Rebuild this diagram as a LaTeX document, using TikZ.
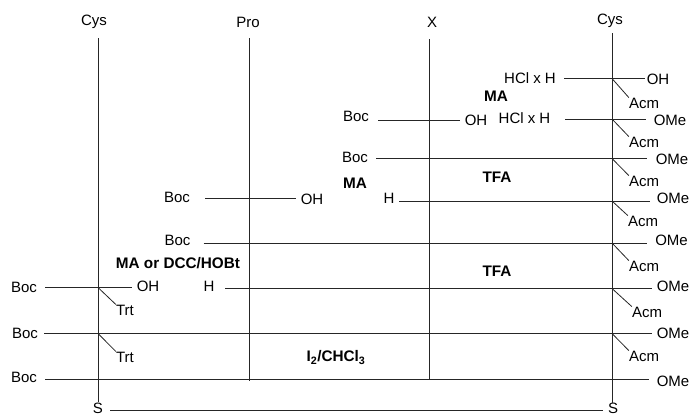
\documentclass[tikz,border=0pt]{standalone}
\usepackage{fontspec}
\setmainfont{Liberation Sans}
\tikzset{
  x=1pt,y=-1pt,
  lab/.style={inner sep=0pt,text height=10.5pt,text depth=0pt,font=\fontsize{15}{18}\selectfont},
  reag/.style={lab,font=\fontsize{15.3}{18}\selectfont\bfseries},
  chain/.style={line width=1pt,black!85},
  side/.style={line width=0.8pt,black!85},
}
\begin{document}
\begin{tikzpicture}
\useasboundingbox (0,0) rectangle (690,416);
% residue headers
\node[lab] (cysL) at (94,20) {Cys};
\node[lab] (pro) at (248,22) {Pro};
\node[lab] (xres) at (432,22) {X};
\node[lab] (cysR) at (610,19) {Cys};
\node[lab] (sL) at (98,408.5) {S};
\node[lab] (sR) at (613,408.5) {S};
% row labels
\node[lab] (hcl1) at (530,78) {HCl x H};
\node[lab] (oh1) at (658,79) {OH};
\node[lab] (acm1) at (644,103) {Acm};
\node[lab] (boc2) at (356,116) {Boc};
\node[lab] (oh2) at (476,120) {OH};
\node[lab] (hcl2) at (524.5,118) {HCl x H};
\node[lab] (ome2) at (670,120) {OMe};
\node[lab] (acm2) at (644,142) {Acm};
\node[lab] (boc3) at (355,157) {Boc};
\node[lab] (ome3) at (672,159) {OMe};
\node[lab] (acm3) at (644,181) {Acm};
\node[lab] (h4) at (389,198) {H};
\node[lab] (ome4) at (673,198) {OMe};
\node[lab] (acm4) at (643,221) {Acm};
\node[lab] (bocp) at (177,197) {Boc};
\node[lab] (ohp) at (312,199) {OH};
\node[lab] (boc5) at (177.5,240) {Boc};
\node[lab] (ome5) at (671.5,240) {OMe};
\node[lab] (acm5) at (644,266) {Acm};
\node[lab] (boc6) at (24,287) {Boc};
\node[lab] (oh6) at (148,286) {OH};
\node[lab] (h6) at (209,286) {H};
\node[lab] (ome6) at (673,286) {OMe};
\node[lab] (trt6) at (125,310) {Trt};
\node[lab] (acm6) at (647,312) {Acm};
\node[lab] (boc7) at (25,333) {Boc};
\node[lab] (ome7) at (673,333) {OMe};
\node[lab] (trt7) at (125,357) {Trt};
\node[lab] (acm7) at (644,356) {Acm};
\node[lab] (boc8) at (24,377) {Boc};
\node[lab] (ome8) at (673,381) {OMe};
% reagents
\node[reag] (ma1) at (496,96) {MA};
\node[reag] (ma2) at (355,183) {MA};
\node[reag] (tfa1) at (497,177) {TFA};
\node[reag] (tfa2) at (497,271) {TFA};
\node[reag] (madcc) at (178,263) {MA or DCC/HOBt};
\node[reag,text depth=3pt] (iodine) at (336,358) {I$_{\mathbf 2}$/CHCl$_{\mathbf 3}$};
% vertical chain ends
\coordinate (v1t) at (98,38); \coordinate (v1b) at (98,402);
\coordinate (v2t) at (249,38); \coordinate (v2b) at (249,381);
\coordinate (v3t) at (429,39); \coordinate (v3b) at (429,380);
\coordinate (v4t) at (612,33); \coordinate (v4b) at (612,403);
\draw[chain] (v1t) -- (v1b);
\draw[chain] (v2t) -- (v2b);
\draw[chain] (v3t) -- (v3b);
\draw[chain] (v4t) -- (v4b);
% horizontal chain ends
\coordinate (a1) at (564,78.5); \coordinate (b1) at (645,78.5);
\coordinate (a2) at (378,120.5); \coordinate (b2) at (460,120.5);
\coordinate (a3) at (565,119); \coordinate (b3) at (646,119);
\coordinate (a4) at (376,158.5); \coordinate (b4) at (647,158.5);
\coordinate (a5) at (399,201); \coordinate (b5) at (650,201);
\coordinate (a6) at (205,198); \coordinate (b6) at (296,198);
\coordinate (a7) at (203.5,243); \coordinate (b7) at (647,243);
\coordinate (a8) at (45,287.5); \coordinate (b8) at (131.5,287.5);
\coordinate (a9) at (225,288.5); \coordinate (b9) at (652,288.5);
\coordinate (a10) at (44,333.5); \coordinate (b10) at (652,333.5);
\coordinate (a11) at (45,379.5); \coordinate (b11) at (649,379.5);
\coordinate (a12) at (110,410); \coordinate (b12) at (603,410);
\foreach \i in {1,...,12} {\draw[chain] (a\i) -- (b\i);}
% side-chain branch points
\coordinate (j1) at (612,78.5);
\coordinate (j2) at (612,119);
\coordinate (j3) at (612,158.5);
\coordinate (j4) at (612,201);
\coordinate (j5) at (612,243);
\coordinate (j6) at (612,288.5);
\coordinate (j7) at (612,333.5);
\coordinate (k6) at (98,287.5);
\coordinate (k7) at (98,333.5);
\foreach \j/\n in {j1/acm1,j2/acm2,j3/acm3,j4/acm4,j5/acm5,j6/acm6,j7/acm7,k6/trt6,k7/trt7}
  {\draw[side] (\j) -- (\n.north west);}
\end{tikzpicture}
\end{document}
